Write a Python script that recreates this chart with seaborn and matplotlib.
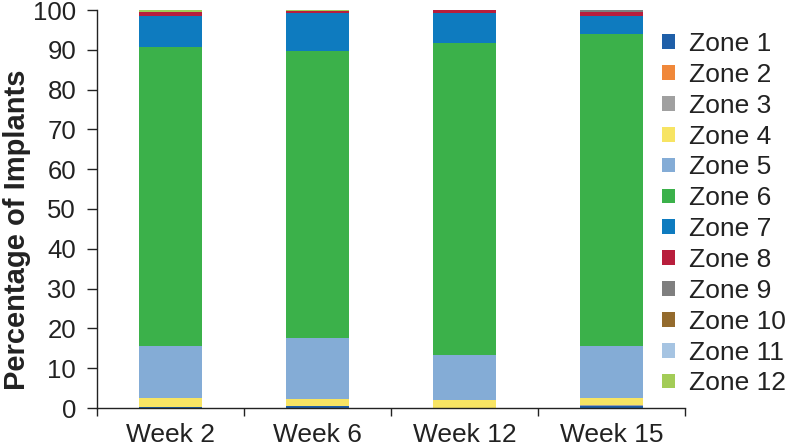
import matplotlib
matplotlib.use("Agg")
import matplotlib.pyplot as plt
import seaborn as sns
import numpy as np
import pandas as pd
from matplotlib.patches import Patch

weeks = ["Week 2", "Week 6", "Week 12", "Week 15"]
zones = [f"Zone {i}" for i in range(1, 13)]
zone1 = [0.2, 0.4, 0.0, 0.5]
zone2 = [0.0, 0.0, 0.0, 0.0]
zone3 = [0.0, 0.0, 0.0, 0.2]
zone4 = [2.2, 1.8, 2.0, 1.8]
zone5 = [13.1, 15.4, 11.3, 13.1]
zone6 = [75.2, 72.2, 78.3, 78.4]
zone7 = [7.9, 9.4, 7.6, 4.5]
zone8 = [1.0, 0.5, 0.7, 1.1]
zone9 = [0.0, 0.0, 0.1, 0.4]
zone10 = [0.0, 0.0, 0.0, 0.0]
zone11 = [0.0, 0.0, 0.0, 0.0]
zone12 = [0.4, 0.3, 0.0, 0.0]
values = [zone1, zone2, zone3, zone4, zone5, zone6, zone7, zone8, zone9, zone10, zone11, zone12]
colors = ["#1f5fa8", "#f0883a", "#a0a0a0", "#f7e463", "#84acd6", "#3bb14a",
          "#0e7bbf", "#b81e3c", "#7f7f7f", "#946b2d", "#a6c4e2", "#a3cc57"]

sns.set_style("ticks")
plt.rcParams["font.family"] = ["Liberation Sans", "DejaVu Sans"]

fig = plt.figure(figsize=(7.92, 4.47), dpi=100)
ax = fig.add_axes([97/792, 1-408/447, (685-97)/792, (408-10)/447])

cum = np.cumsum(np.array(values), axis=0)
for i in range(len(zones) - 1, -1, -1):
    df = pd.DataFrame({"week": weeks, "val": cum[i]})
    sns.barplot(data=df, x="week", y="val", color=colors[i], width=0.43,
                saturation=1, ax=ax, order=weeks, linewidth=0)

ax.set_ylim(0, 100)
ax.set_xlim(-0.5, 3.5)
ax.set_yticks(range(0, 101, 10))
ax.tick_params(axis="y", labelsize=18.5, length=7.5, width=1, pad=7.5, color="#222222",
               labelcolor="#222222")
ax.set_xticks(range(4))
ax.set_xticklabels(weeks, fontsize=19, color="#222222")
ax.tick_params(axis="x", length=0, pad=11)
ax.set_xticks(np.arange(-0.5, 3.6, 1), minor=True)
ax.tick_params(axis="x", which="minor", length=6, width=1, color="#222222")
ax.set_xlabel("")
ax.set_ylabel("Percentage of Implants", fontsize=21, fontweight="bold",
              color="#222222")
ax.yaxis.set_label_coords(-0.112, 0.447)
for s in ["top", "right"]:
    ax.spines[s].set_visible(False)
for s in ["left", "bottom"]:
    ax.spines[s].set_color("#222222")
    ax.spines[s].set_linewidth(1)

handles = [Patch(facecolor=c, edgecolor="none") for c in colors]
leg = fig.legend(handles, zones, loc="upper left", bbox_to_anchor=(662/792, 1-32/447),
                 frameon=False, fontsize=19, handlelength=0.48, handleheight=0.48,
                 handletextpad=0.55, labelspacing=0.26, borderaxespad=0, borderpad=0)
for t in leg.get_texts():
    t.set_color("#222222")

fig.savefig("out.png", dpi=100)
